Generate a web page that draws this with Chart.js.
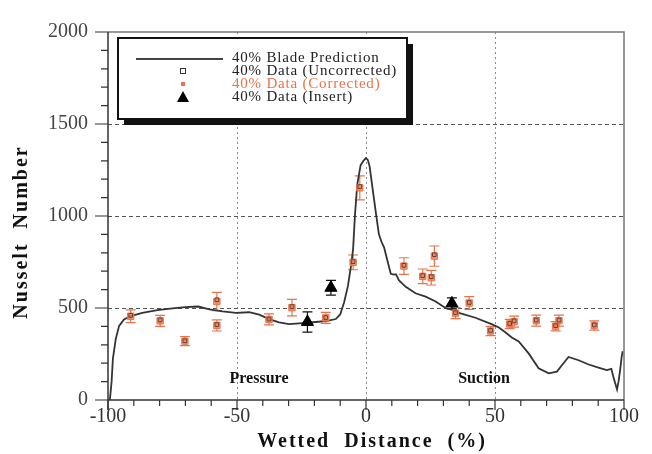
<!DOCTYPE html>
<html>
<head>
<meta charset="utf-8">
<script src="https://cdn.jsdelivr.net/npm/chart.js@4"></script>
<style>
  body { margin: 0; background: #fff; }
  canvas { display: block; }
</style>
</head>
<body>
<canvas id="myChart" width="652" height="454"></canvas>
<script>
// blade prediction curve (40%)
const predX = [-99.3, -99, -98.6, -98.1, -97, -95.7, -93.8, -91.2, -86.7, -80.9, -75, -70, -65, -60.7, -55.6, -50.4, -45.3, -41.4, -37.5, -33.7, -29.8, -24.6, -19.5, -15, -11.7, -10, -8.5, -7, -5.8, -5, -4.3, -3.4, -2.1, -1, 0, 0.7, 1.4, 2.4, 3.8, 5, 6, 7, 8.6, 9.6, 10.8, 11.6, 12.8, 15.4, 19.2, 23.1, 27, 30.8, 33.4, 36, 42.4, 48.9, 51.5, 54, 56.5, 59.2, 63.1, 66.9, 70.8, 74, 76, 78.5, 82.4, 86.3, 90.1, 93.3, 95.1, 96, 97.3, 97.9, 98.5, 99.1, 99.5];
const predY = [0, 40, 101, 225, 331, 403, 438, 456, 473, 488, 498, 505, 508, 492, 482, 474, 477, 464, 440, 422, 412, 418, 424, 430, 440, 465, 530, 620, 730, 820, 1000, 1170, 1275, 1300, 1315, 1305, 1270, 1165, 1020, 900, 860, 830, 740, 686, 682, 684, 650, 615, 580, 562, 535, 500, 490, 473, 447, 411, 394, 368, 340, 318, 252, 172, 145, 154, 190, 234, 216, 193, 176, 163, 169, 119, 57, 101, 163, 234, 265];

// measured data
const dataX = [-91.2, -79.8, -70.2, -57.8, -57.8, -37.6, -28.7, -15.6, -5, -2.4, 14.7, 22, 25.3, 26.5, 34.7, 40, 48.3, 55.7, 57.4, 66, 73.5, 74.8, 88.5];
const corrY = [455, 430, 320, 535, 405, 438, 502, 446, 748, 1153, 728, 672, 665, 782, 472, 527, 375, 413, 426, 431, 401, 431, 405];
const uncorrY = [460, 435, 322, 545, 410, 440, 508, 448, 752, 1160, 732, 676, 670, 790, 475, 530, 378, 416, 430, 434, 404, 434, 408];
const corrErr = [35, 30, 25, 50, 30, 30, 45, 30, 40, 65, 45, 40, 40, 55, 30, 35, 25, 25, 30, 30, 25, 30, 25];

const insX = [-22.7, -13.6, 33.3];
const insY = [424, 610, 525];
const insErr = [55, 40, 30];

const legendLabels = ['40% Blade Prediction', '40% Data (Uncorrected)', '40% Data (Corrected)', '40% Data (Insert)'];

const orange = '#e8734b';
const serif = '"Liberation Serif", "DejaVu Serif", serif';

function pts(xs, ys) {
    return xs.map((x, i) => ({ x: x, y: ys[i] }));
}

const frameAndText = {
    id: 'frameAndText',
    beforeDatasetsDraw(chart) {
        const ctx = chart.ctx;
        const xs = chart.scales.x, ys = chart.scales.y;
        ctx.save();
        // error bars
        function bars(xArr, yArr, eArr, color, cap) {
            ctx.strokeStyle = color;
            ctx.lineWidth = 1.2;
            xArr.forEach((x, i) => {
                const px = xs.getPixelForValue(x);
                const top = ys.getPixelForValue(yArr[i] + eArr[i]);
                const bot = ys.getPixelForValue(yArr[i] - eArr[i]);
                ctx.beginPath();
                ctx.moveTo(px, top); ctx.lineTo(px, bot);
                ctx.moveTo(px - cap, top); ctx.lineTo(px + cap, top);
                ctx.moveTo(px - cap, bot); ctx.lineTo(px + cap, bot);
                ctx.stroke();
            });
        }
        bars(dataX, corrY, corrErr, orange, 5);
        bars(insX, insY, insErr, '#111', 5);
        ctx.restore();
    },
    afterDraw(chart) {
        const ctx = chart.ctx;
        const xs = chart.scales.x, ys = chart.scales.y;
        const a = chart.chartArea;
        ctx.save();
        // frame
        ctx.strokeStyle = '#777';
        ctx.lineWidth = 1.5;
        ctx.beginPath();
        ctx.moveTo(a.left, a.top); ctx.lineTo(a.right, a.top); ctx.lineTo(a.right, a.bottom);
        ctx.stroke();
        ctx.strokeStyle = '#333';
        ctx.beginPath();
        ctx.moveTo(a.left, a.top); ctx.lineTo(a.left, a.bottom + 10);
        ctx.moveTo(a.left, a.bottom); ctx.lineTo(a.right, a.bottom);
        ctx.stroke();
        // ticks
        ctx.lineWidth = 1.2;
        ctx.beginPath();
        for (let v = 0; v <= 2000; v += 100) {
            const py = ys.getPixelForValue(v);
            const len = v % 500 === 0 ? 13 : 7;
            ctx.moveTo(a.left - len, py); ctx.lineTo(a.left, py);
        }
        for (let v = -100; v <= 100; v += 10) {
            const px = xs.getPixelForValue(v);
            const len = v % 50 === 0 ? 10 : 6;
            ctx.moveTo(px, a.bottom); ctx.lineTo(px, a.bottom + len);
        }
        ctx.stroke();

        // axis titles
        ctx.fillStyle = '#111';
        ctx.font = 'bold 20px ' + serif;
        ctx.textAlign = 'center';
        ctx.textBaseline = 'middle';
        ctx.letterSpacing = '2px';
        ctx.fillText('Wetted  Distance  (%)', 372, 442);
        ctx.save();
        ctx.translate(22, 232);
        ctx.rotate(-Math.PI / 2);
        ctx.fillText('Nusselt  Number', 0, 0);
        ctx.restore();
        ctx.letterSpacing = '0px';

        // region labels
        ctx.font = 'bold 16px ' + serif;
        ctx.fillText('Pressure', 259, 379);
        ctx.fillText('Suction', 484, 379);

        // legend box
        const bx = 118, by = 38, bw = 289, bh = 81;
        ctx.fillStyle = '#111';
        ctx.fillRect(bx + 6, by + 6, bw, bh);
        ctx.fillStyle = '#fff';
        ctx.fillRect(bx, by, bw, bh);
        ctx.strokeStyle = '#111';
        ctx.lineWidth = 2;
        ctx.strokeRect(bx, by, bw, bh);

        const rowY = [58, 71, 84, 97];
        ctx.font = '15px ' + serif;
        ctx.letterSpacing = '0.8px';
        ctx.textAlign = 'left';
        ctx.textBaseline = 'middle';
        legendLabels.forEach((t, i) => {
            ctx.fillStyle = i === 2 ? orange : '#222';
            ctx.fillText(t, 232, rowY[i]);
        });
        ctx.letterSpacing = '0px';
        // legend samples
        ctx.strokeStyle = '#444';
        ctx.lineWidth = 2;
        ctx.beginPath();
        ctx.moveTo(136, 59); ctx.lineTo(223, 59);
        ctx.stroke();
        ctx.lineWidth = 1;
        ctx.strokeStyle = '#333';
        ctx.strokeRect(180.5, 68.5, 5, 5);
        ctx.fillStyle = orange;
        ctx.fillRect(181, 82, 4, 4);
        ctx.fillStyle = '#000';
        ctx.beginPath();
        ctx.moveTo(183, 91); ctx.lineTo(189, 102); ctx.lineTo(177, 102);
        ctx.closePath();
        ctx.fill();
        ctx.restore();
    }
};

const ctx = document.getElementById('myChart').getContext('2d');

const myChart = new Chart(ctx, {
    type: 'scatter',
    data: {
        datasets: [
            {
                label: legendLabels[0],
                data: pts(predX, predY),
                showLine: true,
                borderColor: '#333',
                borderWidth: 1.8,
                pointRadius: 0,
                tension: 0,
                order: 4
            },
            {
                label: legendLabels[2],
                data: pts(dataX, corrY),
                pointStyle: 'rect',
                pointRadius: 4.5,
                backgroundColor: 'rgba(240,130,95,0.85)',
                borderColor: orange,
                borderWidth: 1,
                order: 3
            },
            {
                label: legendLabels[1],
                data: pts(dataX, uncorrY),
                pointStyle: 'rect',
                pointRadius: 2.6,
                backgroundColor: 'rgba(255,255,255,0)',
                borderColor: '#6a4030',
                borderWidth: 1,
                order: 2
            },
            {
                label: legendLabels[3],
                data: pts(insX, insY),
                pointStyle: 'triangle',
                pointRadius: 7,
                backgroundColor: '#000',
                borderColor: '#000',
                borderWidth: 1,
                order: 1
            }
        ]
    },
    options: {
        responsive: false,
        animation: false,
        layout: { padding: { top: 24, right: 28, left: 0, bottom: 0 } },
        plugins: {
            legend: { display: false },
            tooltip: { enabled: false }
        },
        scales: {
            x: {
                type: 'linear',
                min: -100,
                max: 100,
                afterFit: function (s) { s.height = 54; },
                ticks: {
                    stepSize: 50,
                    padding: 5,
                    color: '#333',
                    font: { family: serif, size: 20 },
                    callback: v => String(v)
                },
                grid: {
                    drawTicks: false,
                    lineWidth: 1,
                    color: c => (c.tick && Math.abs(c.tick.value) < 100) ? '#888' : 'rgba(0,0,0,0)'
                },
                border: { display: false, dash: [2, 3] }
            },
            y: {
                min: 0,
                max: 2000,
                afterFit: function (s) { s.width = 108; },
                ticks: {
                    stepSize: 500,
                    padding: 20,
                    color: '#444',
                    font: { family: serif, size: 20 },
                    callback: v => String(v)
                },
                grid: {
                    drawTicks: false,
                    lineWidth: 1,
                    color: c => (c.tick && c.tick.value > 0 && c.tick.value < 2000) ? '#555' : 'rgba(0,0,0,0)'
                },
                border: { display: false, dash: [4, 3] }
            }
        }
    },
    plugins: [frameAndText]
});
</script>
</body>
</html>
